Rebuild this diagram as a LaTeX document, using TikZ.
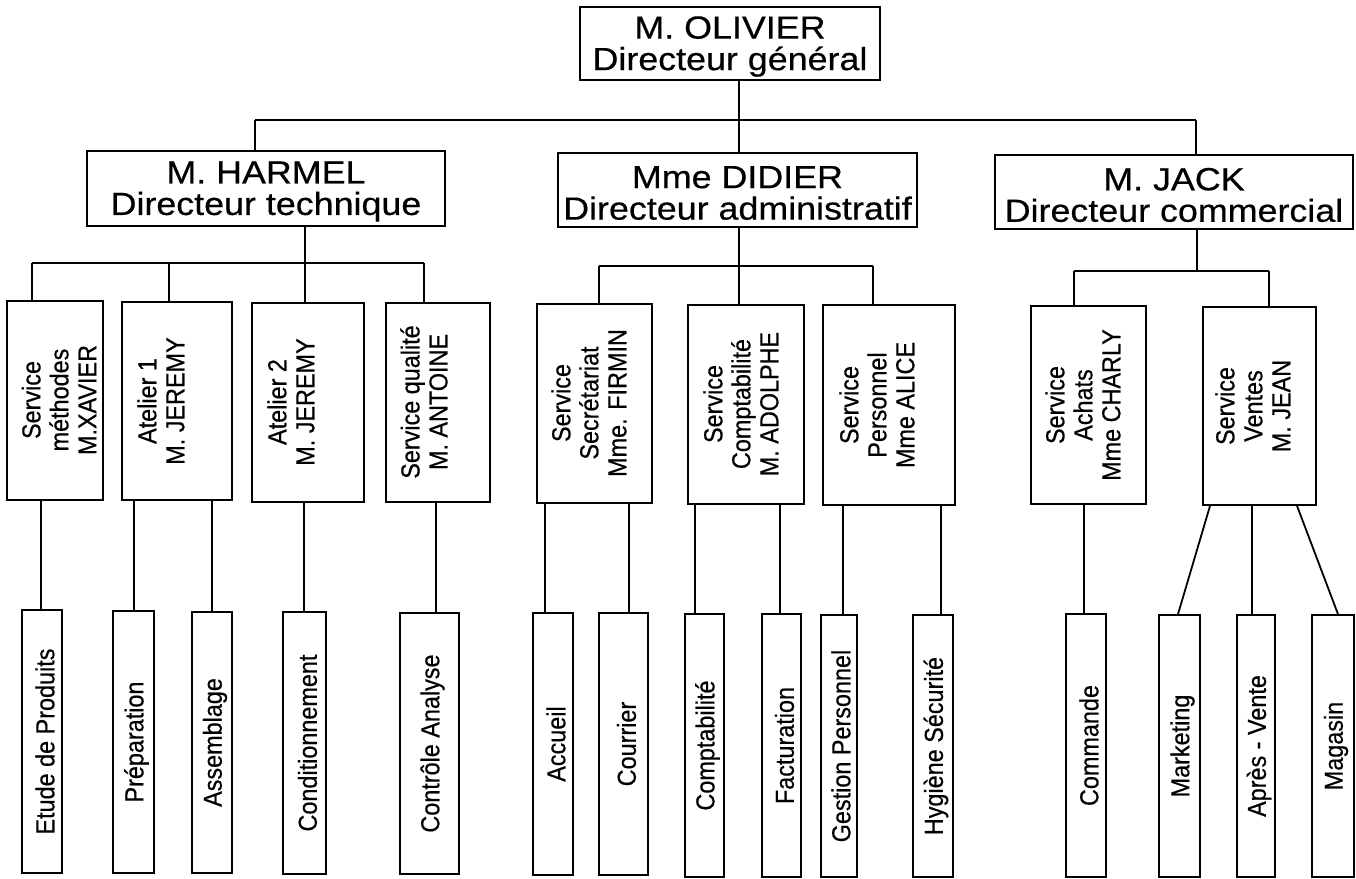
\documentclass[tikz,border=0pt]{standalone}
\usepackage{fontspec}
\setmainfont{Liberation Sans}
\newfontfamily\hfont{Liberation Sans}[FakeStretch=1.12,FakeBold=0.5]
\newfontfamily\vfont{Liberation Sans}[FakeStretch=0.9,FakeBold=0.5]
\usetikzlibrary{fit}
\begin{document}
\begin{tikzpicture}[x=1pt,y=-1pt,
  box/.style={draw, inner sep=0pt, line width=1.7pt},
  ln/.style={line width=1.8pt},
  dt/.style={align=center, inner sep=0pt, font=\hfont\fontsize{32}{31.5}\selectfont},
  vt/.style={rotate=90, align=center, inner sep=0pt, font=\vfont\fontsize{26}{28}\selectfont}]
\useasboundingbox (0,0) rectangle (1356,878);
% --- directors
\node[box, fit={(580,7) (880,80)}] (top) {};
\node[dt] (topt) at ([yshift=-3pt]top.center) {M. OLIVIER\\Directeur général};
\node[box, fit={(87,151) (445,226)}] (harmel) {};
\node[dt] (harmelt) at ([yshift=-3pt]harmel.center) {M. HARMEL\\Directeur technique};
\node[box, fit={(558,153) (917,227)}] (didier) {};
\node[dt] (didiert) at ([yshift=-3pt]didier.center) {Mme DIDIER\\Directeur administratif};
\node[box, fit={(995,155) (1353,229)}] (jack) {};
\node[dt] (jackt) at ([yshift=-3pt]jack.center) {M. JACK\\Directeur commercial};
% --- services
\node[box, fit={(7,301) (103,500)}] (s1) {};
\node[vt] (s1t) at (59,400) {Service\\méthodes\\M.XAVIER};
\node[box, fit={(122,302) (232,500)}] (s2) {};
\node[vt] (s2t) at (161,401) {Atelier 1\\M. JEREMY};
\node[box, fit={(252,303) (364,502)}] (s3) {};
\node[vt] (s3t) at (291,402) {Atelier 2\\M. JEREMY};
\node[box, fit={(386,303) (490,502)}] (s4) {};
\node[vt] (s4t) at (424,402) {Service qualité\\M. ANTOINE};
\node[box, fit={(537,304) (652,503)}] (s5) {};
\node[vt] (s5t) at (589,403) {Service\\Secrétariat\\Mme. FIRMIN};
\node[box, fit={(688,305) (804,504)}] (s6) {};
\node[vt] (s6t) at (741,404) {Service\\Comptabilité\\M. ADOLPHE};
\node[box, fit={(823,305) (955,505)}] (s7) {};
\node[vt] (s7t) at (877,405) {Service\\Personnel\\Mme ALICE};
\node[box, fit={(1031,306) (1146,504)}] (s8) {};
\node[vt] (s8t) at (1083,405) {Service\\Achats\\Mme CHARLY};
\node[box, fit={(1203,307) (1316,505)}] (s9) {};
\node[vt] (s9t) at (1253,406) {Service\\Ventes\\M. JEAN};
% --- bottom tasks
\node[box, fit={(22,610) (62,873)}] (b1) {};
\node[vt] (b1t) at ([xshift=3pt]b1.center) {Etude de Produits};
\node[box, fit={(113,611) (154,873)}] (b2) {};
\node[vt] (b2t) at ([xshift=3pt]b2.center) {Préparation};
\node[box, fit={(192,612) (232,873)}] (b3) {};
\node[vt] (b3t) at ([xshift=3pt]b3.center) {Assemblage};
\node[box, fit={(283,612) (326,874)}] (b4) {};
\node[vt] (b4t) at ([xshift=3pt]b4.center) {Conditionnement};
\node[box, fit={(400,613) (459,874)}] (b5) {};
\node[vt] (b5t) at ([xshift=3pt]b5.center) {Contrôle Analyse};
\node[box, fit={(533,613) (573,875)}] (b6) {};
\node[vt] (b6t) at ([xshift=3pt]b6.center) {Accueil};
\node[box, fit={(599,613) (648,875)}] (b7) {};
\node[vt] (b7t) at ([xshift=3pt]b7.center) {Courrier};
\node[box, fit={(685,614) (724,877)}] (b8) {};
\node[vt] (b8t) at ([xshift=3pt]b8.center) {Comptabilité};
\node[box, fit={(762,614) (801,877)}] (b9) {};
\node[vt] (b9t) at ([xshift=3pt]b9.center) {Facturation};
\node[box, fit={(821,615) (857,877)}] (b10) {};
\node[vt] (b10t) at ([xshift=2pt]b10.center) {Gestion Personnel};
\node[box, fit={(913,615) (953,877)}] (b11) {};
\node[vt] (b11t) at ([xshift=3pt]b11.center) {Hygiène Sécurité};
\node[box, fit={(1066,614) (1106,877)}] (b12) {};
\node[vt] (b12t) at ([xshift=3pt]b12.center) {Commande};
\node[box, fit={(1159,615) (1200,877)}] (b13) {};
\node[vt] (b13t) at ([xshift=3pt]b13.center) {Marketing};
\node[box, fit={(1237,615) (1275,877)}] (b14) {};
\node[vt] (b14t) at ([xshift=3pt]b14.center) {Après - Vente};
\node[box, fit={(1312,615) (1354,877)}] (b15) {};
\node[vt] (b15t) at ([xshift=3pt]b15.center) {Magasin};
% --- connectors: top level
\coordinate (busL) at (255,120);
\coordinate (busM) at (739,120);
\coordinate (busR) at (1196,120);
\draw[ln] (busM |- top.south) -- (busM);
\draw[ln] (busL) -- (busR);
\draw[ln] (busL) -- (busL |- harmel.north);
\draw[ln] (busM) -- (busM |- didier.north);
\draw[ln] (busR) -- (busR |- jack.north);
% --- HARMEL
\coordinate (hL) at (32,263);
\coordinate (hM) at (305,263);
\coordinate (hR) at (424,263);
\draw[ln] (hM |- harmel.south) -- (hM);
\draw[ln] (hL) -- (hR);
\draw[ln] (hL) -- (hL |- s1.north);
\draw[ln] (169,0 |- hL) -- (169,0 |- s2.north);
\draw[ln] (hM) -- (hM |- s3.north);
\draw[ln] (hR) -- (hR |- s4.north);
\draw[ln] (41,0 |- s1.south) -- (41,0 |- b1.north);
\draw[ln] (134,0 |- s2.south) -- (134,0 |- b2.north);
\draw[ln] (212,0 |- s2.south) -- (212,0 |- b3.north);
\draw[ln] (304,0 |- s3.south) -- (304,0 |- b4.north);
\draw[ln] (436,0 |- s4.south) -- (436,0 |- b5.north);
% --- DIDIER
\coordinate (dL) at (599,266);
\coordinate (dM) at (739,266);
\coordinate (dR) at (873,266);
\draw[ln] (dM |- didier.south) -- (dM);
\draw[ln] (dL) -- (dR);
\draw[ln] (dL) -- (dL |- s5.north);
\draw[ln] (dM) -- (dM |- s6.north);
\draw[ln] (dR) -- (dR |- s7.north);
\draw[ln] (545,0 |- s5.south) -- (545,0 |- b6.north);
\draw[ln] (629,0 |- s5.south) -- (629,0 |- b7.north);
\draw[ln] (695,0 |- s6.south) -- (695,0 |- b8.north);
\draw[ln] (780,0 |- s6.south) -- (780,0 |- b9.north);
\draw[ln] (843,0 |- s7.south) -- (843,0 |- b10.north);
\draw[ln] (941,0 |- s7.south) -- (941,0 |- b11.north);
% --- JACK
\coordinate (jL) at (1074,271);
\coordinate (jM) at (1197,271);
\coordinate (jR) at (1269,271);
\draw[ln] (jM |- jack.south) -- (jM);
\draw[ln] (jL) -- (jR);
\draw[ln] (jL) -- (jL |- s8.north);
\draw[ln] (jR) -- (jR |- s9.north);
\draw[ln] (1084,0 |- s8.south) -- (1084,0 |- b12.north);
\draw[ln] (1210,0 |- s9.south) -- (1178,0 |- b13.north);
\draw[ln] (1252,0 |- s9.south) -- (1252,0 |- b14.north);
\draw[ln] (1297,0 |- s9.south) -- (1338,0 |- b15.north);
\end{tikzpicture}
\end{document}
